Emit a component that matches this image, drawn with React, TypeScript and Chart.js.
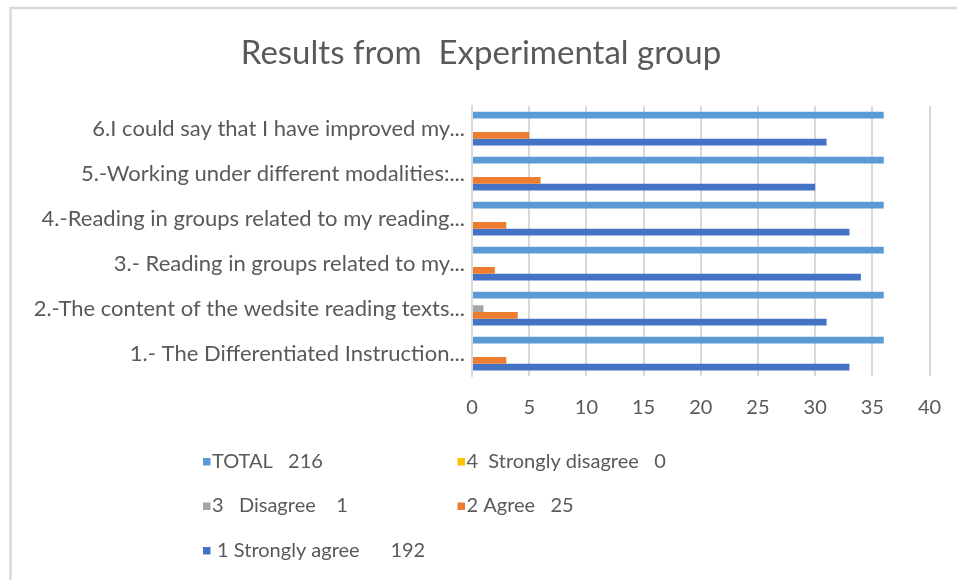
import { useEffect, useRef } from "react";
import { Chart, registerables } from "chart.js";

Chart.register(...registerables);

const titleText = "Results from  Experimental group";

const categories = [
  "1.- The Differentiated Instruction...",
  "2.-The content of the wedsite reading texts...",
  "3.- Reading in groups related to my...",
  "4.-Reading in groups related to my reading...",
  "5.-Working under different modalities:...",
  "6.I could say that I have improved my...",
];

const totalValues = [36, 36, 36, 36, 36, 36];
const stronglyDisagreeValues = [0, 0, 0, 0, 0, 0];
const disagreeValues = [0, 1, 0, 0, 0, 0];
const agreeValues = [3, 4, 2, 3, 6, 5];
const stronglyAgreeValues = [33, 31, 34, 33, 30, 31];

const seriesLabels = [
  "TOTAL   216",
  "4  Strongly disagree   0",
  "3   Disagree    1",
  "2 Agree   25",
  " 1 Strongly agree      192",
];

const xTickMin = 0;
const xTickMax = 40;
const xTickStep = 5;

const FONT = "Lato";
const TEXT_COLOR = "#595959";
const GRID_COLOR = "#d9d9d9";

const framePlugin = {
  id: "frame",
  beforeDraw(chart: any) {
    const ctx = chart.ctx;
    ctx.save();
    ctx.fillStyle = "#ffffff";
    ctx.fillRect(0, 0, chart.width, chart.height);
    ctx.strokeStyle = GRID_COLOR;
    ctx.lineWidth = 2.5;
    ctx.beginPath();
    ctx.moveTo(10.5, chart.height);
    ctx.lineTo(10.5, 8);
    ctx.lineTo(chart.width, 8);
    ctx.stroke();
    ctx.restore();
  },
};

const gridLegendPlugin = {
  id: "gridLegend",
  afterDraw(chart: any) {
    const ctx = chart.ctx;
    const cols = [203, 457.5];
    const rows = [461.5, 506, 550.5];
    ctx.save();
    ctx.font = `20px ${FONT}`;
    ctx.textBaseline = "middle";
    ctx.textAlign = "left";
    chart.data.datasets.forEach((d: any, i: number) => {
      const x = cols[i % 2];
      const y = rows[Math.floor(i / 2)];
      ctx.fillStyle = d.backgroundColor;
      ctx.fillRect(x, y - 3.5, 7.5, 7.5);
      ctx.fillStyle = TEXT_COLOR;
      ctx.fillText(d.label, x + 9, y);
    });
    ctx.restore();
  },
};

export default function App() {
  const canvasRef = useRef<HTMLCanvasElement | null>(null);

  useEffect(() => {
    if (!canvasRef.current) return;
    const colors = ["#5B9BD5", "#FFC000", "#A5A5A5", "#ED7D31", "#4472C4"];
    const values = [
      totalValues,
      stronglyDisagreeValues,
      disagreeValues,
      agreeValues,
      stronglyAgreeValues,
    ];
    const padLeft = 5;
    const chart = new Chart(canvasRef.current, {
      type: "bar",
      data: {
        labels: categories,
        datasets: values.map((v, i) => ({
          label: seriesLabels[i],
          data: v,
          backgroundColor: colors[i],
          borderWidth: 0,
          barPercentage: 1,
          categoryPercentage: 0.75,
        })),
      },
      options: {
        indexAxis: "y",
        responsive: false,
        animation: false,
        layout: { padding: { left: padLeft, right: 0, top: 0, bottom: 164 } },
        plugins: {
          legend: { display: false },
          tooltip: { enabled: false },
          title: {
            display: true,
            text: titleText,
            color: TEXT_COLOR,
            font: { family: FONT, size: 33, weight: "normal" },
            padding: { top: 34, bottom: 32.4 },
          },
        },
        scales: {
          x: {
            type: "linear",
            min: xTickMin,
            max: xTickMax,
            ticks: {
              stepSize: xTickStep,
              color: TEXT_COLOR,
              font: { family: FONT, size: 20 },
              padding: 20,
            },
            grid: { color: GRID_COLOR, lineWidth: 2, drawTicks: false },
            border: { display: false },
            afterFit(scale: any) {
              scale.height = 40;
              scale.paddingLeft = 0;
              scale.paddingRight = 27.5;
            },
          },
          y: {
            reverse: true,
            ticks: {
              color: TEXT_COLOR,
              font: { family: FONT, size: 22 },
              padding: 7,
            },
            grid: { display: false, drawTicks: false },
            border: { display: true, color: GRID_COLOR, width: 2 },
            afterFit(scale: any) {
              scale.width = 472 - padLeft;
            },
          },
        },
      },
      plugins: [framePlugin, gridLegendPlugin],
    });
    return () => chart.destroy();
  }, []);

  return (
    <div
      style={{
        position: "fixed",
        left: 0,
        top: 0,
        width: 957,
        height: 580,
        background: "#fff",
      }}
    >
      <canvas ref={canvasRef} width={957} height={580} style={{ display: "block" }} />
    </div>
  );
}
